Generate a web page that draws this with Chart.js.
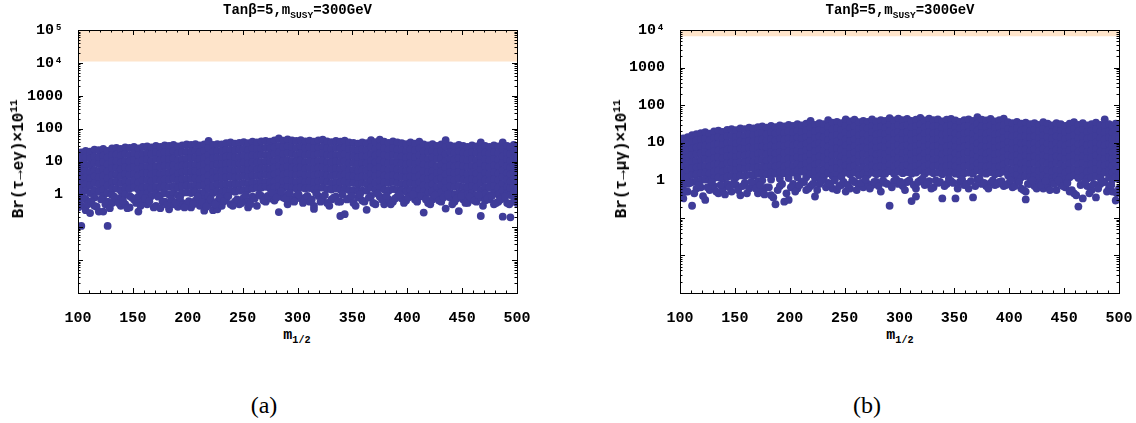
<!DOCTYPE html>
<html>
<head>
<meta charset="utf-8">
<script src="https://cdn.jsdelivr.net/npm/chart.js@4.4.0/dist/chart.umd.min.js"></script>
<style>
  body { margin: 0; background: #fff; width: 1136px; height: 423px; position: relative; overflow: hidden; }
  canvas { position: absolute; top: 0; }
  .mono { position: absolute; white-space: nowrap; color: #000;
          font-family: 'Liberation Mono', 'Courier New', 'DejaVu Sans Mono', monospace; font-weight: bold; }
  .title { font-size: 14px; top: 2px; text-align: center; }
  .ylab { font-size: 16px; transform: translate(-50%, -50%) rotate(-90deg); }
  .xlab { font-size: 15px; transform: translate(-50%, -50%); }
  .cap { position: absolute; font-family: 'Liberation Serif', 'DejaVu Serif', serif; font-size: 24px; transform: translate(-50%, -50%); }
  sub, sup { font-size: 68%; line-height: 0; }
</style>
</head>
<body>
<canvas id="chartA" width="545" height="323" style="left:0px"></canvas>
<canvas id="chartB" width="545" height="323" style="left:602px"></canvas>

<div class="mono title" style="left:78px;width:439px">Tan&beta;=5,m<sub>SUSY</sub>=300GeV</div>
<div class="mono title" style="left:680px;width:440px">Tan&beta;=5,m<sub>SUSY</sub>=300GeV</div>
<div class="mono ylab" style="left:19px;top:159px">Br(&tau;&rarr;e&gamma;)&times;10<sup>11</sup></div>
<div class="mono ylab" style="left:622px;top:159px">Br(&tau;&rarr;&mu;&gamma;)&times;10<sup>11</sup></div>
<div class="mono xlab" style="left:297px;top:335px">m<sub>1/2</sub></div>
<div class="mono xlab" style="left:900px;top:335px">m<sub>1/2</sub></div>
<div class="cap" style="left:264px;top:405px">(a)</div>
<div class="cap" style="left:867px;top:405px">(b)</div>

<script>
// m_1/2 axis and decade ticks
const mHalfMin = 100;
const mHalfMax = 500;
const decadesE = [1e-3, 1e-2, 1e-1, 1, 10, 100, 1000, 1e4, 1e5];
const decadesMu = [1e-3, 1e-2, 1e-1, 1, 10, 100, 1000, 1e4];

// experimental upper bounds (shaded band), x 10^11
const boundE = [11000, 100000];
const boundMu = [6800, 10000];

// Br(tau -> e gamma) x 10^11, grouped by m_1/2 : [m_1/2, [values]]
const brTauEGamma = [
  [100,[16,10,6,3.8,2.4,1.5,0.9,0.4]],
  [103,[19,12,7.5,4.6,3,1.9,1.2,0.45,0.11]],
  [107,[21,13,8,5,3.2,2,1.3,0.7,0.33]],
  [111,[20,12.5,7.8,4.8,3,1.9,1.1,0.27]],
  [115,[23,14,9,5.5,3.5,2.2,1.3,0.8,0.45]],
  [119,[22,13.5,8.5,5.2,3.3,2,1.2,0.3]],
  [123,[24,15,9.5,6,3.7,2.3,1.4,0.9,0.3]],
  [127,[21,13,8,5,3.1,1.9,1.1,0.6,0.11]],
  [131,[25,16,10,6.2,3.9,2.4,1.5,0.95,0.55]],
  [135,[26,16.5,10,6.4,4,2.5,1.5,0.72]],
  [139,[24,15,9.2,5.8,3.6,2.2,1.3,0.8,0.45]],
  [143,[27,17,10.5,6.6,4.1,2.6,1.6,1,0.5]],
  [147,[26,16,10,6.2,3.9,2.4,1.5,0.9,0.4]],
  [151,[28,17.5,11,6.8,4.2,2.6,1.6,0.7]],
  [155,[25,15.5,9.6,6,3.7,2.3,1.4,0.85,0.3]],
  [159,[28,17,11,6.8,4.3,2.7,1.6,1,0.6]],
  [163,[29,18,11.5,7,4.4,2.7,1.7,1.05,0.5]],
  [167,[27,17,10.5,6.5,4,2.5,1.5,0.9]],
  [171,[30,19,12,7.2,4.5,2.8,1.7,1.05,0.45]],
  [175,[28,17.5,11,6.8,4.2,2.6,1.6,0.95,0.38]],
  [179,[31,19,12,7.5,4.6,2.9,1.8,1.1,0.6]],
  [183,[30,18.5,11.5,7.2,4.5,2.8,1.7,1,0.35]],
  [187,[32,20,12.5,7.8,4.8,3,1.8,1.1,0.5]],
  [191,[29,18,11,7,4.3,2.7,1.6,0.95,0.42]],
  [195,[31,19.5,12,7.5,4.7,2.9,1.8,1.1,0.55]],
  [199,[33,20,12.5,7.8,4.9,3,1.9,1.15,0.5]],
  [203,[32,20,12.5,7.7,4.8,3,1.8,1.1,0.4]],
  [207,[34,21,13,8,5,3.1,1.9,1.2,0.65]],
  [211,[31,19,12,7.5,4.6,2.9,1.8,1.05,0.45]],
  [215,[33,21,13,8.1,5,3.1,1.9,1.15,0.7,0.32]],
  [219,[42,26,16,10,6.2,3.8,2.4,1.5,0.9,0.5]],
  [223,[32,20,12.5,7.8,4.8,3,1.8,1.1,0.33]],
  [227,[34,21,13,8.2,5.1,3.2,2,1.2,0.6,0.35]],
  [231,[33,20.5,12.8,8,5,3.1,1.9,1.15,0.45]],
  [235,[36,22,14,8.6,5.4,3.3,2,1.25,0.75]],
  [239,[38,23,14.5,9,5.6,3.5,2.1,1.3,0.5]],
  [243,[35,22,13.5,8.4,5.2,3.2,2,1.2,0.6]],
  [247,[37,23,14,8.8,5.5,3.4,2.1,1.3,0.5]],
  [251,[39,24,15,9.3,5.8,3.6,2.2,1.35,0.8]],
  [255,[36,22.5,14,8.7,5.4,3.4,2.1,1.4,0.6,0.4]],
  [259,[40,25,15.5,9.6,6,3.7,2.3,1.5,0.85]],
  [263,[38,24,15,9.2,5.7,3.6,2.2,1.6,0.45]],
  [267,[41,25,16,9.8,6.1,3.8,2.4,1.6,0.9]],
  [271,[42,26,16,10,6.2,3.9,2.4,1.7,0.6]],
  [275,[40,25,15.5,9.6,6,3.7,2.3,1.5,0.75]],
  [279,[44,27,17,10.5,6.5,4,2.5,1.6,0.65]],
  [283,[50,30,19,12,7.4,4.6,2.9,1.8,1.1,0.29]],
  [287,[43,27,16.5,10.3,6.4,4,2.5,1.55,0.8]],
  [291,[47,29,18,11,7,4.3,2.7,1.7,1,0.5]],
  [295,[44,27,17,10.5,6.5,4.1,2.5,1.6,0.7]],
  [299,[42,26,16,10,6.2,3.9,2.4,1.5,0.9]],
  [303,[45,28,17.5,10.8,6.7,4.2,2.6,1.6,0.75]],
  [307,[41,25.5,16,9.8,6.1,3.8,2.4,1.5,0.8]],
  [311,[43,27,16.5,10.3,6.4,4,2.5,1.55,0.6]],
  [315,[40,25,15.5,9.6,6,3.7,2.3,1.4,0.45,0.36]],
  [319,[44,27,17,10.5,6.5,4,2.5,1.55,0.9]],
  [323,[46,28.5,17.5,11,6.8,4.2,2.6,1.6,0.8]],
  [327,[41,25.5,16,9.8,6.1,3.8,2.4,1.45,0.55]],
  [331,[39,24,15,9.3,5.8,3.6,2.2,1.4,0.7]],
  [335,[42,26,16,10,6.2,3.9,2.4,1.5,0.85]],
  [339,[40,25,15.5,9.6,6,3.7,2.3,1.4,0.6,0.22]],
  [343,[43,26.5,16.5,10.3,6.4,4,2.5,1.5,0.25]],
  [347,[38,23.5,14.5,9,5.6,3.5,2.2,1.35,0.75]],
  [351,[37,23,14.5,9,5.6,3.5,2.2,1.3,0.55]],
  [355,[35,22,13.5,8.4,5.2,3.2,2,1.25,0.8]],
  [359,[38,23.5,14.5,9.1,5.7,3.5,2.2,1.3,0.65]],
  [363,[36,22.5,14,8.7,5.4,3.4,2.1,1.3,0.34]],
  [367,[45,28,17,10.7,6.6,4.1,2.6,1.6,0.9]],
  [371,[39,24,15,9.3,5.8,3.6,2.2,1.35,0.5]],
  [375,[46,28.5,17.5,11,6.8,4.2,2.6,1.6,0.85]],
  [379,[40,25,15.5,9.6,6,3.7,2.3,1.4,0.5]],
  [383,[37,23,14.5,9,5.6,3.5,2.2,1.3,0.7]],
  [387,[41,25.5,16,9.8,6.1,3.8,2.4,1.45,0.6]],
  [391,[38,23.5,14.5,9.1,5.7,3.5,2.2,1.35,0.85]],
  [395,[36,22.5,14,8.7,5.4,3.4,2.1,1.3,0.75]],
  [399,[34,21,13,8.2,5.1,3.2,2,1.2,0.65]],
  [403,[38,23.5,14.5,9,5.6,3.5,2.2,1.35,0.9]],
  [407,[35,22,13.5,8.4,5.2,3.2,2,1.25,0.7]],
  [411,[40,25,15.5,9.6,6,3.7,2.3,1.4,0.85]],
  [415,[33,20.5,12.8,8,5,3.1,1.9,1.2,0.28]],
  [419,[31,19.5,12,7.5,4.7,2.9,1.8,1.1,0.55]],
  [423,[34,21,13,8.2,5.1,3.2,2,1.2,0.7]],
  [427,[30,19,12,7.2,4.5,2.8,1.7,1.05,0.85]],
  [431,[33,20.5,12.8,8,5,3.1,1.9,1.15,0.6]],
  [435,[45,28,17,10.5,6.6,4.1,2.5,1.55,0.37]],
  [439,[31,19.5,12,7.5,4.7,2.9,1.8,1.1,0.8]],
  [443,[29,18,11.3,7,4.4,2.7,1.7,1,0.6]],
  [447,[32,20,12.5,7.7,4.8,3,1.8,1.1,0.31]],
  [451,[30,18.5,11.5,7.2,4.5,2.8,1.7,1.05,0.7]],
  [455,[28,17.5,11,6.8,4.2,2.6,1.6,1,0.55]],
  [459,[31,19,12,7.4,4.6,2.9,1.8,1.1,0.75]],
  [463,[29,18,11,7,4.3,2.7,1.6,0.95,0.6]],
  [467,[38,23.5,14.5,9,5.6,3.5,2.2,1.3,0.8,0.22]],
  [471,[30,18.5,11.5,7.2,4.5,2.8,1.7,1.05,0.65]],
  [475,[28,17.5,11,6.8,4.2,2.6,1.6,0.95,0.7]],
  [479,[31,19,12,7.5,4.7,2.9,1.8,1.1,0.5]],
  [483,[29,18,11.2,7,4.3,2.7,1.6,1,0.6]],
  [487,[38,23,14.5,9,5.5,3.4,2.1,1.3,0.8,0.21]],
  [491,[30,18.5,11.5,7.2,4.5,2.8,1.7,1.05,0.55]],
  [494,[27,17,10.5,6.5,4,2.5,1.55,0.95,0.2]],
  [497,[32,20,12.5,7.7,4.8,3,1.8,1.1,0.6]],
  [500,[28,17.5,11,6.8,4.2,2.6,1.6,1,0.55]]
];

// further tau -> e gamma points in the lower fringe : [m_1/2, value]
const brTauEGammaLow = [
  [101,0.55],[105,0.8],[109,0.5],[112,0.62],[117,0.42],[121,0.7],[125,0.5],[129,0.38],[133,0.85],[137,0.55],
  [141,0.65],[145,0.38],[149,0.8],[153,0.55],[157,0.45],[161,0.75],[165,0.62],[169,0.4],[173,0.85],[177,0.6],
  [181,0.48],[185,0.72],[189,0.58],[193,0.8],[197,0.4],[201,0.62],[205,0.5],[209,0.85],[213,0.58],[217,0.42],
  [221,0.7],[225,0.5],[229,0.8],[233,0.62],[237,0.9],[241,0.45],[245,0.7],[249,0.55],[253,0.95],[257,0.5],
  [261,0.75],[265,1],[269,0.65],[273,0.9],[277,1.1],[281,0.8],[285,1.2],[289,0.75],[293,1.1],[297,0.6],
  [301,1],[305,0.55],[309,0.9],[313,0.7],[317,1.1],[321,0.6],[325,0.95],[329,0.45],[333,0.8],[337,0.6],
  [341,1],[345,0.7],[349,0.9],[353,0.45],[357,1],[361,0.6],[365,0.8],[369,0.55],[373,1.05],[377,0.7],
  [381,0.9],[385,0.5],[389,0.75],[393,1],[397,0.55],[401,0.8],[405,1],[409,0.6],[413,0.9],[417,0.7],
  [421,0.5],[425,0.95],[429,0.65],[433,0.8],[437,1],[441,0.5],[445,0.75],[449,0.9],[453,0.55],[457,0.85],
  [461,0.65],[465,0.95],[469,0.45],[473,0.75],[477,0.9],[481,0.55],[485,0.7],[489,0.85],[493,0.5],[498,0.7]
];

// Br(tau -> mu gamma) x 10^11, grouped by m_1/2
const brTauMuGamma = [
  [100,[11,7.3,4.9,3.2,2.1,1.4,0.95,0.62,0.43]],
  [103,[13,8.7,5.8,3.9,2.6,1.7,1.15,0.75,0.33]],
  [107,[14,9.3,6.2,4.1,2.7,1.8,1.2,0.8,0.5]],
  [111,[16,10.5,7,4.7,3.1,2.1,1.4,0.9,0.21]],
  [115,[17,11.3,7.5,5,3.3,2.2,1.45,0.95,0.6]],
  [119,[18,12,8,5.3,3.5,2.3,1.55,1,0.65]],
  [123,[19,12.5,8.3,5.5,3.7,2.4,1.6,1.05,0.3]],
  [127,[17.5,11.7,7.8,5.2,3.4,2.3,1.5,1,0.55]],
  [131,[20,13.3,8.9,5.9,3.9,2.6,1.7,1.15,0.7]],
  [135,[21,14,9.3,6.2,4.1,2.7,1.8,1.2,0.45]],
  [139,[19.5,13,8.7,5.8,3.8,2.5,1.7,1.1,0.6]],
  [143,[22,14.7,9.8,6.5,4.3,2.9,1.9,1.25,0.8]],
  [147,[23,15.3,10,6.8,4.5,3,2,1.3,0.5]],
  [151,[21.5,14.3,9.5,6.3,4.2,2.8,1.85,1.2,0.75]],
  [155,[24,16,10.7,7.1,4.7,3.1,2.1,1.35,0.4]],
  [159,[23,15.3,10.2,6.8,4.5,3,2,1.3,0.85]],
  [163,[25,16.7,11,7.4,4.9,3.3,2.2,1.4,0.6]],
  [167,[24,16,10.6,7,4.7,3.1,2.1,1.35,0.7]],
  [171,[26,17.3,11.5,7.7,5.1,3.4,2.2,1.5,0.95,0.45]],
  [175,[27,18,12,8,5.3,3.5,2.3,1.55,1,0.55]],
  [179,[25,16.7,11.1,7.4,4.9,3.3,2.2,1.45,0.65]],
  [183,[28,18.7,12.4,8.3,5.5,3.7,2.4,1.6,1.05,0.4]],
  [187,[26,17.3,11.5,7.7,5.1,3.4,2.3,1.5,0.23]],
  [191,[29,19.3,12.9,8.6,5.7,3.8,2.5,1.7,1.1,0.7]],
  [195,[27,18,12,8,5.3,3.5,2.3,1.55,0.27]],
  [199,[30,20,13.3,8.9,5.9,3.9,2.6,1.75,1.15,0.3]],
  [203,[28,18.7,12.4,8.3,5.5,3.7,2.4,1.6,0.8]],
  [207,[31,20.7,13.8,9.2,6.1,4.1,2.7,1.8,1.2,0.6]],
  [211,[29,19.3,12.9,8.6,5.7,3.8,2.5,1.7,0.9]],
  [215,[32,21.3,14.2,9.5,6.3,4.2,2.8,1.85,1.2,0.55]],
  [219,[38,25,16.8,11.2,7.5,5,3.3,2.2,1.45,0.7]],
  [223,[30,20,13.3,8.9,5.9,3.9,2.6,1.75,1.15,0.37]],
  [227,[33,22,14.7,9.8,6.5,4.3,2.9,1.9,1.25,0.8]],
  [231,[31,20.7,13.8,9.2,6.1,4.1,2.7,1.8,1.2]],
  [235,[40,26.7,17.8,11.9,7.9,5.3,3.5,2.35,1.55,0.85]],
  [239,[34,22.7,15.1,10,6.7,4.5,3,2,1.3,0.6]],
  [243,[36,24,16,10.7,7.1,4.7,3.1,2.1,1.4,0.55]],
  [247,[33,22,14.7,9.8,6.5,4.3,2.9,1.9,1.25,0.75]],
  [251,[42,28,18.7,12.4,8.3,5.5,3.7,2.45,1.6,0.5]],
  [255,[37,24.7,16.4,11,7.3,4.9,3.3,2.2,1.45,0.6]],
  [259,[41,27.3,18.2,12.1,8.1,5.4,3.6,2.4,1.6,0.9]],
  [263,[35,23.3,15.6,10.4,6.9,4.6,3.1,2,1.35,0.7]],
  [267,[38,25.3,16.9,11.3,7.5,5,3.3,2.2,1.5,0.65]],
  [271,[36,24,16,10.7,7.1,4.7,3.2,2.1,1.4,0.8]],
  [275,[42,28,18.7,12.4,8.3,5.5,3.7,2.45,1.6,0.75]],
  [279,[37,24.7,16.4,11,7.3,4.9,3.3,2.2,1.45,0.9]],
  [283,[40,26.7,17.8,11.9,7.9,5.3,3.5,2.35,1.55,0.5]],
  [287,[38,25.3,16.9,11.3,7.5,5,3.3,2.2,1.5,0.85]],
  [291,[45,30,20,13.3,8.9,5.9,3.9,2.6,1.75,0.21]],
  [295,[39,26,17.3,11.5,7.7,5.1,3.4,2.3,1.5,0.95]],
  [299,[44,29.3,19.5,13,8.7,5.8,3.9,2.6,1.7,0.8]],
  [303,[40,26.7,17.8,11.9,7.9,5.3,3.5,2.35,1.55,0.7]],
  [307,[43,28.7,19.1,12.7,8.5,5.7,3.8,2.5,1.65,0.9]],
  [311,[38,25.3,16.9,11.3,7.5,5,3.3,2.2,1.5,0.28]],
  [315,[41,27.3,18.2,12.1,8.1,5.4,3.6,2.4,1.6,0.6,0.37]],
  [319,[46,30.7,20.4,13.6,9.1,6,4,2.7,1.8,1]],
  [323,[39,26,17.3,11.5,7.7,5.1,3.4,2.3,1.5,0.75]],
  [327,[44,29.3,19.5,13,8.7,5.8,3.9,2.6,1.7,0.95]],
  [331,[40,26.7,17.8,11.9,7.9,5.3,3.5,2.35,1.55,0.65]],
  [335,[42,28,18.7,12.4,8.3,5.5,3.7,2.45,1.6,0.85]],
  [339,[37,24.7,16.4,11,7.3,4.9,3.3,2.2,1.45,0.33]],
  [343,[41,27.3,18.2,12.1,8.1,5.4,3.6,2.4,1.6,0.8]],
  [347,[43,28.7,19.1,12.7,8.5,5.7,3.8,2.5,1.65,0.95]],
  [351,[39,26,17.3,11.5,7.7,5.1,3.4,2.3,1.5,0.33]],
  [355,[36,24,16,10.7,7.1,4.7,3.2,2.1,1.4,0.9]],
  [359,[40,26.7,17.8,11.9,7.9,5.3,3.5,2.35,1.55,0.75]],
  [363,[42,28,18.7,12.4,8.3,5.5,3.7,2.45,1.6,0.6]],
  [367,[38,25.3,16.9,11.3,7.5,5,3.3,2.2,1.5,0.35]],
  [371,[48,32,21.3,14.2,9.5,6.3,4.2,2.8,1.85,1.05]],
  [375,[41,27.3,18.2,12.1,8.1,5.4,3.6,2.4,1.6,0.8]],
  [379,[39,26,17.3,11.5,7.7,5.1,3.4,2.3,1.5,0.7]],
  [383,[43,28.7,19.1,12.7,8.5,5.7,3.8,2.5,1.65,0.85]],
  [387,[37,24.7,16.4,11,7.3,4.9,3.3,2.2,1.45,0.75]],
  [391,[40,26.7,17.8,11.9,7.9,5.3,3.5,2.35,1.55,0.9]],
  [395,[44,29.3,19.5,13,8.7,5.8,3.9,2.6,1.7,0.7]],
  [399,[35,23.3,15.6,10.4,6.9,4.6,3.1,2,1.35,0.8]],
  [403,[33,22,14.7,9.8,6.5,4.3,2.9,1.9,1.25,0.65]],
  [407,[36,24,16,10.7,7.1,4.7,3.2,2.1,1.4,0.95]],
  [411,[32,21.3,14.2,9.5,6.3,4.2,2.8,1.85,1.2,0.6]],
  [415,[34,22.7,15.1,10,6.7,4.5,3,2,1.3,0.5,0.31]],
  [419,[31,20.7,13.8,9.2,6.1,4.1,2.7,1.8,1.2,0.8]],
  [423,[33,22,14.7,9.8,6.5,4.3,2.9,1.9,1.25,0.7]],
  [427,[30,20,13.3,8.9,5.9,3.9,2.6,1.75,1.15,0.85]],
  [431,[35,23.3,15.6,10.4,6.9,4.6,3.1,2,1.35,0.6]],
  [435,[32,21.3,14.2,9.5,6.3,4.2,2.8,1.85,1.2,0.75]],
  [439,[29,19.3,12.9,8.6,5.7,3.8,2.5,1.7,1.1,0.9]],
  [443,[33,22,14.7,9.8,6.5,4.3,2.9,1.9,1.25,0.55]],
  [447,[31,20.7,13.8,9.2,6.1,4.1,2.7,1.8,1.2,0.8]],
  [451,[28,18.7,12.4,8.3,5.5,3.7,2.4,1.6,1.05,0.65]],
  [455,[32,21.3,14.2,9.5,6.3,4.2,2.8,1.85,1.2,0.5]],
  [459,[35,23.3,15.6,10.4,6.9,4.6,3.1,2,1.35,0.45]],
  [463,[30,20,13.3,8.9,5.9,3.9,2.6,1.75,1.15,0.2]],
  [467,[33,22,14.7,9.8,6.5,4.3,2.9,1.9,1.25,0.33]],
  [471,[29,19.3,12.9,8.6,5.7,3.8,2.5,1.7,1.1,0.7]],
  [475,[31,20.7,13.8,9.2,6.1,4.1,2.7,1.8,1.2,0.55]],
  [479,[34,22.7,15.1,10,6.7,4.5,3,2,1.3,0.35]],
  [483,[30,20,13.3,8.9,5.9,3.9,2.6,1.75,1.15,0.8]],
  [487,[42,28,18.7,12.4,8.3,5.5,3.7,2.45,1.6,0.9]],
  [491,[31,20.7,13.8,9.2,6.1,4.1,2.7,1.8,1.2,0.65]],
  [494,[28,18.7,12.4,8.3,5.5,3.7,2.4,1.6,1.05,0.5]],
  [497,[32,21.3,14.2,9.5,6.3,4.2,2.8,1.85,1.2,0.29]],
  [500,[29,19.3,12.9,8.6,5.7,3.8,2.5,1.7,1.1,0.6]]
];

// further tau -> mu gamma points in the lower fringe : [m_1/2, value]
const brTauMuGammaLow = [
  [101,0.7],[105,0.5],[109,0.85],[113,0.45],[117,0.75],[121,0.38],[125,0.65],[129,0.9],[133,0.5],[137,0.75],
  [141,0.42],[145,0.65],[149,0.85],[153,0.55],[157,0.7],[161,0.45],[165,0.9],[169,0.6],[173,0.75],[177,0.42],
  [181,0.65],[185,0.35],[189,0.55],[193,0.8],[197,0.45],[201,0.65],[205,0.5],[209,0.75],[213,0.9],[217,0.6],
  [221,0.8],[225,0.55],[229,0.95],[233,0.65],[237,0.8],[241,1],[245,0.7],[249,0.9],[253,0.75],[257,1],
  [261,0.55],[265,0.85],[269,1.05],[273,0.6],[277,0.9],[281,0.7],[285,1],[289,0.8],[293,0.65],[297,1.05],
  [301,0.9],[305,0.55],[309,1],[313,0.75],[317,0.9],[321,1.1],[325,0.8],[329,0.6],[333,1],[337,0.9],
  [341,0.7],[345,1.1],[349,0.85],[353,0.6],[357,1.05],[361,0.8],[365,0.95],[369,0.7],[373,1.1],[377,0.85],
  [381,0.6],[385,1],[389,0.8],[393,0.95],[397,0.75],[401,1],[405,0.7],[409,0.9],[413,0.55],[417,0.8],
  [421,1],[425,0.6],[429,0.75],[433,0.95],[437,0.55],[441,0.8],[445,1],[449,0.7],[453,0.85],[457,0.55],
  [461,0.4],[465,0.75],[469,0.9],[473,0.45],[477,0.8],[481,0.6],[485,0.95],[489,0.5],[493,0.75],[498,0.45]
];

const dotColor = '#3f3c99';
const bandColor = '#fee4ca';
const tickFont = { family: "'Liberation Mono', 'Courier New', monospace", size: 15, weight: 'bold' };

// frame with inward major/minor ticks on all four sides
const frameTicks = {
    id: 'frameTicks',
    afterDatasetsDraw(chart) {
        const { ctx, chartArea: a, scales: { x, y } } = chart;
        ctx.save();
        ctx.strokeStyle = '#000';
        ctx.lineWidth = 1;
        ctx.beginPath();
        for (let v = mHalfMin; v <= mHalfMax; v += 10) {
            const px = Math.round(x.getPixelForValue(v)) + 0.5;
            const len = v % 50 === 0 ? 5 : 2.5;
            ctx.moveTo(px, a.bottom); ctx.lineTo(px, a.bottom - len);
            ctx.moveTo(px, a.top); ctx.lineTo(px, a.top + len);
        }
        for (let d = y.min; d < y.max * 1.01; d *= 10) {
            for (let k = 1; k <= 9; k++) {
                const v = d * k;
                if (v > y.max * 1.01) break;
                const py = Math.round(y.getPixelForValue(v)) + 0.5;
                const len = k === 1 ? 5 : 2.5;
                ctx.moveTo(a.left, py); ctx.lineTo(a.left + len, py);
                ctx.moveTo(a.right, py); ctx.lineTo(a.right - len, py);
            }
        }
        ctx.stroke();
        ctx.strokeRect(Math.round(a.left) + 0.5, Math.round(a.top) + 0.5,
            Math.round(a.right - a.left), Math.round(a.bottom - a.top));
        ctx.restore();
    }
};

function yLabel(v) {
    if (v === 1e5) return '10\u2075';
    if (v === 1e4) return '10\u2074';
    if (v >= 1) return String(v);
    return '';
}

function makeChart(id, cols, low, bound, decades) {
    const points = cols.flatMap(([m, vals]) => vals.map(v => ({ x: m, y: v })))
        .concat(low.map(([m, v]) => ({ x: m, y: v })));
    return new Chart(document.getElementById(id), {
        type: 'scatter',
        data: {
            datasets: [
                {
                    data: points,
                    backgroundColor: dotColor,
                    borderWidth: 0,
                    pointRadius: 3.9,
                    clip: 0
                },
                {
                    type: 'line',
                    data: [{ x: mHalfMin, y: bound[1] }, { x: mHalfMax, y: bound[1] }],
                    fill: { value: bound[0] },
                    backgroundColor: bandColor,
                    borderWidth: 0,
                    pointRadius: 0
                }
            ]
        },
        options: {
            responsive: false,
            animation: false,
            events: [],
            layout: { padding: { top: 30, right: 28, left: 0, bottom: 0 } },
            plugins: {
                legend: { display: false },
                tooltip: { enabled: false },
                filler: { drawTime: 'beforeDatasetsDraw' }
            },
            scales: {
                x: {
                    type: 'linear',
                    min: mHalfMin,
                    max: mHalfMax,
                    grid: { display: false },
                    border: { display: false },
                    ticks: { stepSize: 50, color: '#000', font: tickFont, padding: 8, maxRotation: 0 },
                    afterFit: s => { s.height = 30; }
                },
                y: {
                    type: 'logarithmic',
                    min: decades[0],
                    max: decades[decades.length - 1],
                    grid: { display: false },
                    border: { display: false },
                    afterBuildTicks: s => { s.ticks = decades.map(v => ({ value: v })); },
                    ticks: { color: '#000', font: tickFont, padding: 7, callback: v => yLabel(v) },
                    afterFit: s => { s.width = 78; }
                }
            }
        },
        plugins: [frameTicks]
    });
}

makeChart('chartA', brTauEGamma, brTauEGammaLow, boundE, decadesE);
makeChart('chartB', brTauMuGamma, brTauMuGammaLow, boundMu, decadesMu);
</script>
</body>
</html>
